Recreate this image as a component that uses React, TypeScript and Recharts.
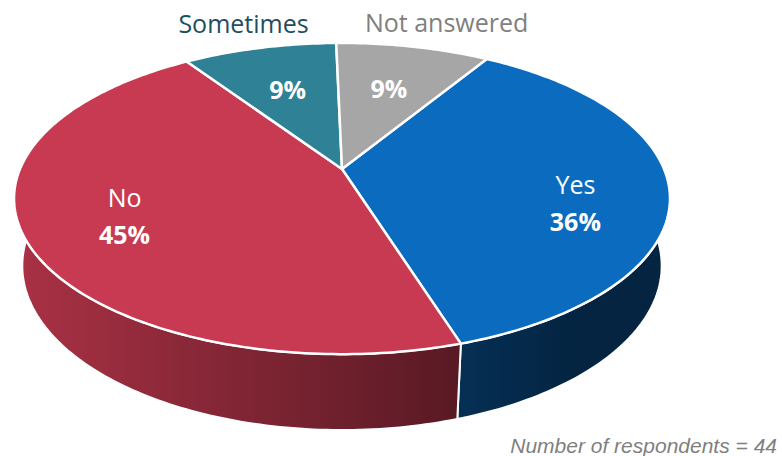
import React from 'react';
import { PieChart, Pie } from 'recharts';

const CATEGORIES = ['Yes', 'No', 'Sometimes', 'Not answered'];
const RESPONDENTS = [16, 20, 4, 4];
const TOP_COLORS = ['#0b6bbf', '#c83a51', '#2f8196', '#a6a6a6'];
const NAME_COLORS = ['#ffffff', '#ffffff', '#1f4e5f', '#808080'];
// small tweaks so the labels sit where Excel put them
const LABEL_SHIFT = [[6, 20], [-2, -2], [2, 2], [18, 2]];

const data = CATEGORIES.map((name, i) => ({ name, value: RESPONDENTS[i] }));

// fake 3D: perspective projection of a tilted disc with a rim
const CX = 342;
const CY = 169;
const A = 322; // horizontal radius
const B = 150; // vertical radius
const K = 0.19; // perspective
const DEPTH = 68;
const M = 0.025;
const RAD = Math.PI / 180;
const FONT = '"Open Sans", "Noto Sans", sans-serif';

function proj(angle: number, r: number, t: number) {
  const u = r * Math.cos(angle * RAD);
  const w = r * Math.sin(angle * RAD);
  const d = 1 + K * w + M * t;
  return { x: CX + (A * u) / d, y: CY + (-B * w + DEPTH * t) / d };
}

function steps(from: number, to: number) {
  const n = Math.max(2, Math.ceil(Math.abs(to - from)));
  const out: number[] = [];
  for (let i = 0; i <= n; i++) out.push(from + ((to - from) * i) / n);
  return out;
}

function shade(hex: string, f: number) {
  const n = parseInt(hex.slice(1), 16);
  const c = [(n >> 16) & 255, (n >> 8) & 255, n & 255].map((v) => Math.round(v * f));
  return `rgb(${c[0]},${c[1]},${c[2]})`;
}

function light(x: number) {
  const t = (x - (CX - 328)) / 656;
  return Math.min(1, Math.max(0.34, 0.85 - 0.6 * t));
}

const renderSide = (props: any) => {
  const { startAngle, endAngle, index } = props;
  const lo = Math.min(startAngle, endAngle);
  const hi = Math.max(startAngle, endAngle);
  const runs: number[][] = [];
  let cur: number[] = [];
  steps(lo, hi).forEach((a) => {
    if (Math.sin(a * RAD) <= 0.02) cur.push(a);
    else if (cur.length) {
      runs.push(cur);
      cur = [];
    }
  });
  if (cur.length) runs.push(cur);
  return (
    <g key={`side-${index}`}>
      {runs.filter((r) => r.length > 1).map((run, j) => {
        const top = run.map((a) => proj(a, 1, 0));
        const bottom = run.map((a) => proj(a, 1, 1)).reverse();
        const xs = top.map((p) => p.x);
        const x1 = Math.min(...xs);
        const x2 = Math.max(...xs) + 0.01;
        const stops = top
          .map((p) => ({ o: (p.x - x1) / (x2 - x1), c: shade(TOP_COLORS[index], light(p.x)) }))
          .sort((a, b) => a.o - b.o);
        const id = `sideGrad-${index}-${j}`;
        const d =
          [...top, ...bottom].map((p, i) => `${i ? 'L' : 'M'}${p.x.toFixed(2)},${p.y.toFixed(2)}`).join(' ') + ' Z';
        return (
          <g key={j}>
            <defs>
              <linearGradient id={id} gradientUnits="userSpaceOnUse" x1={x1} y1={0} x2={x2} y2={0}>
                {stops.map((s, k) => (
                  <stop key={k} offset={s.o} stopColor={s.c} />
                ))}
              </linearGradient>
            </defs>
            <path d={d} fill={`url(#${id})`} stroke="#ffffff" strokeWidth={2} strokeLinejoin="round" />
          </g>
        );
      })}
    </g>
  );
};

const renderTop = (props: any) => {
  const { startAngle, endAngle, index } = props;
  const pts = steps(startAngle, endAngle).map((a) => proj(a, 1, 0));
  const d =
    `M${CX},${CY} ` + pts.map((p) => `L${p.x.toFixed(2)},${p.y.toFixed(2)}`).join(' ') + ' Z';
  return (
    <path
      key={`top-${index}`}
      d={d}
      fill={TOP_COLORS[index]}
      stroke="#ffffff"
      strokeWidth={2.5}
      strokeLinejoin="round"
    />
  );
};

const renderText = (props: any) => {
  const { midAngle, percent, index } = props;
  const pct = `${Math.round(percent * 100)}%`;
  const [dx, dy] = LABEL_SHIFT[index];
  if (percent < 0.15) {
    const inner = proj(midAngle, 0.62, 0);
    const outer = proj(midAngle, 1.27, 0);
    return (
      <g key={`txt-${index}`} fontFamily={FONT} fontSize={25} textAnchor="middle" dominantBaseline="central">
        <text x={inner.x} y={inner.y} fill="#ffffff" fontWeight="bold">
          {pct}
        </text>
        <text x={outer.x + dx} y={outer.y + dy} fill={NAME_COLORS[index]}>
          {CATEGORIES[index]}
        </text>
      </g>
    );
  }
  const p = proj(midAngle, 0.7, 0);
  return (
    <g key={`txt-${index}`} fontFamily={FONT} fontSize={25} textAnchor="middle" dominantBaseline="central">
      <text x={p.x + dx} y={p.y + dy - 18} fill={NAME_COLORS[index]}>
        {CATEGORIES[index]}
      </text>
      <text x={p.x + dx} y={p.y + dy + 19} fill="#ffffff" fontWeight="bold">
        {pct}
      </text>
    </g>
  );
};

export default function App() {
  const common = {
    data,
    dataKey: 'value',
    nameKey: 'name',
    cx: CX,
    cy: CY,
    outerRadius: 150,
    startAngle: 58.5,
    endAngle: -301.5,
    fill: 'none',
    stroke: 'none',
    labelLine: false,
    isAnimationActive: false,
  };
  return (
    <div style={{ position: 'absolute', left: 0, top: 0, width: 782, height: 456, background: '#ffffff' }}>
      <PieChart width={782} height={456} margin={{ top: 0, right: 0, bottom: 0, left: 0 }}>
        <Pie {...common} label={renderSide} />
        <Pie {...common} label={renderTop} />
        <Pie {...common} label={renderText} />
      </PieChart>
      <div
        style={{
          position: 'absolute',
          right: 5,
          top: 435,
          fontFamily: '"Liberation Sans", Arial, sans-serif',
          fontStyle: 'italic',
          fontSize: 21,
          lineHeight: '21px',
          color: '#7f7f7f',
          whiteSpace: 'nowrap',
        }}
      >
        Number of respondents = 44
      </div>
    </div>
  );
}
